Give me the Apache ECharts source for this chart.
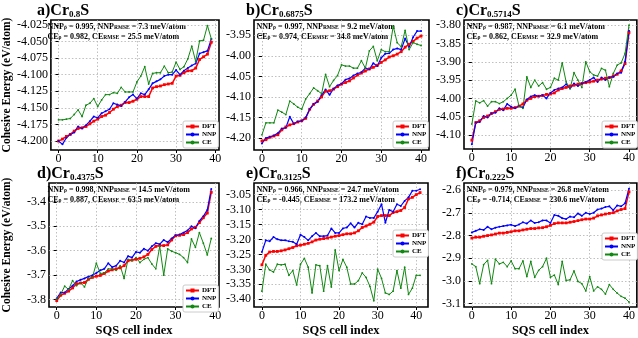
<!DOCTYPE html>
<html><head><meta charset="utf-8">
<script src="https://cdn.jsdelivr.net/npm/echarts@6/dist/echarts.min.js"></script>
<style>html,body{margin:0;padding:0;background:#fff}#c{width:638px;height:338px}</style>
</head><body><div id="c"></div>
<script>
// ---------------- data ----------------
const xTicks = [0, 10, 20, 30, 40];
const letters = ['a', 'b', 'c', 'd', 'e', 'f'];
const compositions = ['0.8', '0.6875', '0.5714', '0.4375', '0.3125', '0.222'];
const nnpRho = ['0.995', '0.997', '0.987', '0.998', '0.966', '0.979'];
const nnpRmse = ['7.3', '9.2', '6.1', '14.5', '24.7', '26.8'];
const ceRho = ['0.982', '0.974', '0.862', '0.887', '-0.445', '-0.714'];
const ceRmse = ['25.5', '34.8', '32.9', '63.5', '173.2', '230.6'];

const aYTicks = [-4.200, -4.175, -4.150, -4.125, -4.100, -4.075, -4.050, -4.025];
const bYTicks = [-4.20, -4.15, -4.10, -4.05, -4.00, -3.95];
const cYTicks = [-4.10, -4.05, -4.00, -3.95, -3.90, -3.85, -3.80];
const dYTicks = [-3.8, -3.7, -3.6, -3.5, -3.4];
const eYTicks = [-3.40, -3.35, -3.30, -3.25, -3.20, -3.15, -3.10, -3.05];
const fYTicks = [-3.1, -3.0, -2.9, -2.8, -2.7, -2.6];

const a_DFT = [-4.200,-4.197,-4.193,-4.190,-4.185,-4.181,-4.180,-4.178,-4.174,-4.170,-4.167,-4.163,-4.161,-4.157,-4.152,-4.148,-4.146,-4.142,-4.142,-4.140,-4.137,-4.133,-4.133,-4.133,-4.120,-4.118,-4.117,-4.115,-4.114,-4.113,-4.102,-4.101,-4.097,-4.094,-4.094,-4.090,-4.077,-4.073,-4.069,-4.051];
const a_NNP = [-4.200,-4.205,-4.195,-4.190,-4.187,-4.178,-4.181,-4.176,-4.170,-4.163,-4.165,-4.158,-4.155,-4.152,-4.143,-4.145,-4.147,-4.141,-4.134,-4.130,-4.136,-4.128,-4.130,-4.122,-4.113,-4.110,-4.107,-4.102,-4.100,-4.100,-4.093,-4.100,-4.094,-4.090,-4.086,-4.083,-4.068,-4.066,-4.064,-4.046];
const a_CE = [-4.168,-4.168,-4.167,-4.166,-4.160,-4.153,-4.163,-4.146,-4.143,-4.136,-4.148,-4.138,-4.130,-4.130,-4.127,-4.128,-4.119,-4.126,-4.126,-4.126,-4.111,-4.102,-4.088,-4.114,-4.098,-4.097,-4.097,-4.087,-4.097,-4.096,-4.081,-4.092,-4.088,-4.076,-4.057,-4.080,-4.049,-4.048,-4.026,-4.046];

const b_DFT = [-4.207,-4.204,-4.198,-4.195,-4.192,-4.180,-4.173,-4.168,-4.165,-4.161,-4.158,-4.152,-4.130,-4.118,-4.110,-4.100,-4.086,-4.085,-4.081,-4.075,-4.069,-4.065,-4.061,-4.054,-4.047,-4.042,-4.037,-4.032,-4.028,-4.023,-4.016,-4.010,-4.003,-4.000,-3.996,-3.990,-3.979,-3.972,-3.965,-3.957,-3.952];
const b_NNP = [-4.213,-4.200,-4.197,-4.194,-4.188,-4.177,-4.175,-4.148,-4.165,-4.160,-4.158,-4.150,-4.130,-4.117,-4.112,-4.095,-4.082,-4.095,-4.080,-4.072,-4.068,-4.058,-4.055,-4.048,-4.043,-4.040,-4.030,-4.033,-4.018,-4.025,-4.005,-3.995,-3.994,-3.985,-3.982,-3.985,-3.958,-3.978,-3.955,-3.940,-3.940];
const b_CE = [-4.192,-4.163,-4.163,-4.163,-4.132,-4.137,-4.143,-4.110,-4.117,-4.125,-4.130,-4.105,-4.092,-4.078,-4.085,-4.092,-4.045,-4.075,-4.060,-4.048,-4.022,-4.025,-4.025,-4.030,-4.030,-4.012,-4.030,-3.988,-3.977,-4.012,-3.985,-3.990,-3.990,-3.928,-3.968,-3.978,-3.938,-3.985,-3.968,-3.972,-3.975];

const c_DFT = [-4.114,-4.066,-4.061,-4.052,-4.048,-4.041,-4.036,-4.030,-4.029,-4.027,-4.027,-4.025,-4.021,-4.015,-4.005,-4.000,-3.995,-3.994,-3.992,-3.989,-3.988,-3.985,-3.977,-3.973,-3.970,-3.966,-3.964,-3.961,-3.959,-3.957,-3.955,-3.953,-3.950,-3.947,-3.945,-3.943,-3.939,-3.934,-3.925,-3.905,-3.820];
const c_NNP = [-4.125,-4.066,-4.064,-4.048,-4.052,-4.041,-4.039,-4.027,-4.032,-4.015,-4.023,-4.027,-4.021,-4.025,-4.003,-3.995,-3.991,-3.994,-3.991,-4.000,-3.985,-3.977,-3.973,-3.970,-3.961,-3.973,-3.959,-3.966,-3.959,-3.955,-3.950,-3.943,-3.955,-3.943,-3.950,-3.943,-3.941,-3.932,-3.930,-3.900,-3.815];
const c_CE = [-4.070,-4.007,-4.012,-4.006,-4.021,-4.009,-4.009,-4.014,-4.009,-4.000,-3.991,-3.975,-4.021,-4.027,-3.941,-3.970,-3.950,-3.966,-3.957,-3.975,-3.970,-3.945,-3.950,-3.903,-3.955,-3.973,-3.930,-3.950,-3.970,-3.900,-3.927,-3.936,-3.939,-3.918,-3.923,-3.968,-3.932,-3.909,-3.903,-3.877,-3.800];

const d_DFT = [-3.804,-3.782,-3.774,-3.765,-3.752,-3.735,-3.732,-3.730,-3.717,-3.709,-3.704,-3.701,-3.693,-3.683,-3.678,-3.674,-3.670,-3.661,-3.641,-3.638,-3.635,-3.631,-3.625,-3.615,-3.595,-3.582,-3.579,-3.579,-3.576,-3.556,-3.539,-3.537,-3.534,-3.526,-3.511,-3.504,-3.485,-3.465,-3.446,-3.361];
const d_NNP = [-3.795,-3.771,-3.771,-3.756,-3.743,-3.726,-3.719,-3.713,-3.706,-3.700,-3.691,-3.680,-3.674,-3.651,-3.667,-3.661,-3.641,-3.648,-3.622,-3.628,-3.605,-3.608,-3.592,-3.600,-3.582,-3.569,-3.573,-3.556,-3.565,-3.550,-3.537,-3.534,-3.526,-3.517,-3.500,-3.508,-3.478,-3.459,-3.433,-3.348];
const d_CE = [-3.797,-3.778,-3.745,-3.758,-3.722,-3.743,-3.730,-3.748,-3.713,-3.709,-3.651,-3.693,-3.691,-3.674,-3.674,-3.680,-3.661,-3.713,-3.635,-3.641,-3.628,-3.648,-3.635,-3.628,-3.654,-3.674,-3.582,-3.700,-3.592,-3.602,-3.608,-3.615,-3.628,-3.648,-3.552,-3.586,-3.526,-3.569,-3.617,-3.550];

const e_DFT = [-3.285,-3.253,-3.242,-3.240,-3.240,-3.238,-3.235,-3.231,-3.227,-3.221,-3.219,-3.216,-3.213,-3.208,-3.202,-3.199,-3.197,-3.195,-3.192,-3.189,-3.187,-3.184,-3.181,-3.181,-3.178,-3.171,-3.160,-3.155,-3.149,-3.142,-3.123,-3.120,-3.120,-3.120,-3.110,-3.107,-3.103,-3.093,-3.064,-3.059,-3.050,-3.043];
const e_NNP = [-3.242,-3.203,-3.206,-3.192,-3.199,-3.203,-3.203,-3.206,-3.208,-3.216,-3.184,-3.192,-3.203,-3.189,-3.178,-3.189,-3.189,-3.187,-3.163,-3.178,-3.178,-3.163,-3.160,-3.146,-3.160,-3.144,-3.149,-3.123,-3.128,-3.128,-3.107,-3.082,-3.144,-3.101,-3.107,-3.082,-3.088,-3.071,-3.059,-3.037,-3.037,-3.032];
const e_CE = [-3.373,-3.283,-3.302,-3.309,-3.283,-3.285,-3.283,-3.320,-3.304,-3.352,-3.283,-3.263,-3.293,-3.379,-3.285,-3.288,-3.373,-3.288,-3.359,-3.235,-3.304,-3.267,-3.293,-3.349,-3.349,-3.338,-3.312,-3.327,-3.357,-3.405,-3.299,-3.330,-3.379,-3.384,-3.373,-3.304,-3.363,-3.293,-3.384,-3.363,-3.320,-3.320];

const f_DFT = [-2.811,-2.807,-2.807,-2.803,-2.800,-2.797,-2.793,-2.789,-2.789,-2.786,-2.783,-2.779,-2.779,-2.775,-2.772,-2.769,-2.769,-2.766,-2.765,-2.761,-2.755,-2.747,-2.744,-2.744,-2.744,-2.741,-2.738,-2.734,-2.730,-2.727,-2.727,-2.723,-2.713,-2.709,-2.705,-2.702,-2.699,-2.691,-2.685,-2.681,-2.607];
const f_NNP = [-2.786,-2.779,-2.772,-2.775,-2.761,-2.772,-2.765,-2.761,-2.758,-2.755,-2.752,-2.758,-2.751,-2.741,-2.747,-2.733,-2.744,-2.741,-2.733,-2.733,-2.744,-2.709,-2.713,-2.723,-2.727,-2.716,-2.719,-2.702,-2.713,-2.699,-2.705,-2.699,-2.685,-2.681,-2.674,-2.671,-2.688,-2.667,-2.671,-2.657,-2.593];
const f_CE = [-2.925,-2.937,-3.012,-2.928,-2.909,-3.012,-2.904,-2.925,-2.918,-2.937,-2.912,-2.946,-2.946,-2.912,-2.981,-2.914,-2.984,-2.953,-2.937,-2.900,-2.984,-2.974,-3.016,-2.914,-2.998,-2.995,-2.956,-3.002,-3.012,-3.044,-2.981,-3.044,-3.026,-3.037,-3.058,-3.016,-3.037,-3.054,-3.068,-3.076,-3.093];

// ---------------- layout ----------------
const FONT = '"Liberation Serif", "Times New Roman", serif';
const panels = [
  {dft:a_DFT, nnp:a_NNP, ce:a_CE, yTicks:aYTicks, dec:3, grid:{left:45,top:20,width:174,height:130}, xr:[-1.95,40.95], yr:[-4.2135,-4.0175], legend:{left:183,top:121}, ylab:true, xlab:false},
  {dft:b_DFT, nnp:b_NNP, ce:b_CE, yTicks:bYTicks, dec:2, grid:{left:254,top:20,width:175,height:130}, xr:[-2,42], yr:[-4.229,-3.913], legend:{left:393,top:121}, ylab:false, xlab:false},
  {dft:c_DFT, nnp:c_NNP, ce:c_CE, yTicks:cYTicks, dec:2, grid:{left:464,top:20,width:173,height:129}, xr:[-2,42], yr:[-4.138,-3.786], legend:{left:602,top:121}, ylab:false, xlab:false},
  {dft:d_DFT, nnp:d_NNP, ce:d_CE, yTicks:dYTicks, dec:1, grid:{left:45,top:183,width:174,height:131}, xr:[-1.95,40.95], yr:[-3.830,-3.323], legend:{left:183,top:285}, ylab:true, xlab:true},
  {dft:e_DFT, nnp:e_NNP, ce:e_CE, yTicks:eYTicks, dec:2, grid:{left:254,top:183,width:174,height:131}, xr:[-2.05,43.05], yr:[-3.426,-3.011], legend:{left:393,top:230}, ylab:false, xlab:true},
  {dft:f_DFT, nnp:f_NNP, ce:f_CE, yTicks:fYTicks, dec:1, grid:{left:464,top:183,width:173,height:130}, xr:[-2,42], yr:[-3.115,-2.568], legend:{left:602,top:233}, ylab:false, xlab:true}
];

const grids = [], xAxes = [], yAxes = [], series = [], legends = [], graphics = [];
const gridLine = {show:true, lineStyle:{color:'#b0b0b0', width:0.8, type:[1.5,2]}};
const toPts = arr => arr.map((v, i) => [i, v]);

panels.forEach((p, k) => {
  grids.push(Object.assign({show:true, borderColor:'#000', borderWidth:1.6, backgroundColor:'#fff'}, p.grid));
  xAxes.push({
    type:'value', gridIndex:k, min:p.xr[0], max:p.xr[1],
    axisLine:{show:false},
    axisTick:{show:true, length:3, customValues:xTicks, lineStyle:{color:'#000', width:1}},
    axisLabel:{customValues:xTicks, fontSize:12, fontFamily:FONT, color:'#000', margin:3},
    splitLine:gridLine,
    name: p.xlab ? 'SQS cell index' : '', nameLocation:'middle', nameGap:17,
    nameTextStyle:{fontSize:12.5, fontWeight:'bold', fontFamily:FONT, color:'#000'}
  });
  yAxes.push({
    type:'value', gridIndex:k, min:p.yr[0], max:p.yr[1],
    axisLine:{show:false},
    axisTick:{show:true, length:3, customValues:p.yTicks, lineStyle:{color:'#000', width:1}},
    axisLabel:{customValues:p.yTicks, fontSize:12, fontFamily:FONT, color:'#000', margin:3,
      formatter: v => v.toFixed(p.dec)},
    splitLine:gridLine,
    name: p.ylab ? 'Cohesive Energy (eV/atom)' : '', nameLocation:'middle', nameGap:36, nameRotate:90,
    nameTextStyle:{fontSize:11.5, fontWeight:'bold', fontFamily:FONT, color:'#000'}
  });
  series.push({name:'DFT', type:'line', xAxisIndex:k, yAxisIndex:k, data:toPts(p.dft),
    symbol:'rect', symbolSize:2.8, lineStyle:{color:'#ff0000', width:1.5}, itemStyle:{color:'#ff0000', borderWidth:0}, silent:true});
  series.push({name:'NNP', type:'line', xAxisIndex:k, yAxisIndex:k, data:toPts(p.nnp),
    symbol:'circle', symbolSize:2, lineStyle:{color:'#0000ff', width:1.2}, itemStyle:{color:'#0000ff', borderWidth:0}, silent:true});
  series.push({name:'CE', type:'line', xAxisIndex:k, yAxisIndex:k, data:toPts(p.ce),
    symbol:'circle', symbolSize:1.8, lineStyle:{color:'#118811', width:1}, itemStyle:{color:'#118811', borderWidth:0}, silent:true});
  legends.push({
    data:['DFT','NNP','CE'], orient:'vertical', left:p.legend.left, top:p.legend.top,
    itemWidth:13, itemHeight:5, itemGap:1, padding:[2,2,2,2],
    backgroundColor:'#fff', borderColor:'#cccccc', borderWidth:1, borderRadius:2,
    textStyle:{fontSize:7, fontWeight:'bold', fontFamily:FONT, color:'#000', padding:[0,0,0,-2]},
    selectedMode:false
  });
  // panel title
  graphics.push({type:'text', x:p.grid.left - 8, y:p.grid.top - 21, silent:true,
    style:{text:'{m|' + letters[k] + ')Cr}{s|' + compositions[k] + '}{m|S}', fill:'#000',
      rich:{m:{fontSize:16, fontWeight:'bold', fontFamily:FONT, lineHeight:20, verticalAlign:'bottom'},
            s:{fontSize:9, fontWeight:'bold', fontFamily:FONT, lineHeight:7, verticalAlign:'bottom'}}}});
  const annRich = {m:{fontSize:8, fontWeight:'bold', fontFamily:FONT, lineHeight:10, verticalAlign:'bottom'},
                   s:{fontSize:5.5, fontWeight:'bold', fontFamily:FONT, lineHeight:4, verticalAlign:'bottom'}};
  graphics.push({type:'text', x:p.grid.left + 2.5, y:p.grid.top + 1, silent:true,
    style:{text:'{m|NNP}{s|ρ}{m| = ' + nnpRho[k] + ', NNP}{s|RMSE}{m| = ' + nnpRmse[k] + ' meV/atom}', fill:'#000', rich:annRich}});
  graphics.push({type:'text', x:p.grid.left + 2.5, y:p.grid.top + 10.5, silent:true,
    style:{text:'{m|CE}{s|ρ}{m| = ' + ceRho[k] + ', CE}{s|RMSE}{m| = ' + ceRmse[k] + ' meV/atom}', fill:'#000', rich:annRich}});
});

const chart = echarts.init(document.getElementById('c'), null, {renderer:'canvas', width:638, height:338});
chart.setOption({
  backgroundColor:'#fff', animation:false,
  grid:grids, xAxis:xAxes, yAxis:yAxes, series:series, legend:legends, graphic:graphics
});
</script>
</body></html>
